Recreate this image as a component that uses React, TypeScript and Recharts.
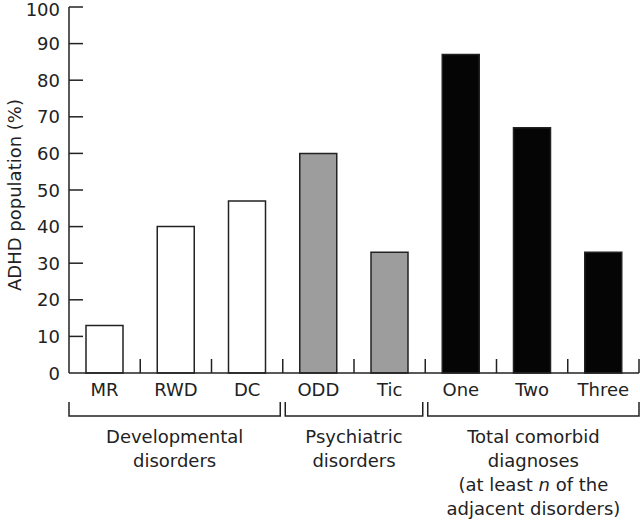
import { Bar, BarChart, Cell, XAxis, YAxis } from "recharts";

const categories = ["MR", "RWD", "DC", "ODD", "Tic", "One", "Two", "Three"];
const values = [13, 40, 47, 60, 33, 87, 67, 33];
const fills = ["#ffffff", "#ffffff", "#ffffff", "#9d9d9d", "#9d9d9d", "#050505", "#050505", "#050505"];
const yTicks = [0, 10, 20, 30, 40, 50, 60, 70, 80, 90, 100];
const groups = [
  { start: 0, count: 3, lines: ["Developmental", "disorders"] },
  { start: 3, count: 2, lines: ["Psychiatric", "disorders"] },
  { start: 5, count: 3, lines: ["Total comorbid", "diagnoses", "(at least n of the", "adjacent disorders)"] },
];

const W = 640;
const H = 524;
const AXIS_W = 69;
const RIGHT = 1;
const BAND = (W - AXIS_W - RIGHT) / categories.length;
const INK = "#222";
const FONT = "'DejaVu Sans', sans-serif";
const FS = 18;

const data = categories.map((name, i) => ({ name, value: values[i] }));

function YTick(props: any) {
  const { x, y, payload } = props;
  return (
    <g>
      <text x={x - 9} y={y} dy={payload.value === 100 ? 8.5 : 6.5} textAnchor="end" fontSize={FS} fill={INK} fontFamily={FONT}>
        {payload.value}
      </text>
      {payload.value !== 0 && <line x1={x} x2={x + 14} y1={y} y2={y} stroke={INK} strokeWidth={1.5} />}
    </g>
  );
}

function GroupLine({ text, x, y }: { text: string; x: number; y: number }) {
  if (text.includes(" n ")) {
    const [a, b] = text.split(" n ");
    return (
      <text x={x} y={y} textAnchor="middle" fontSize={FS} fill={INK} fontFamily={FONT}>
        {a + " "}
        <tspan fontStyle="italic">n</tspan>
        {" " + b}
      </text>
    );
  }
  return (
    <text x={x} y={y} textAnchor="middle" fontSize={FS} fill={INK} fontFamily={FONT}>
      {text}
    </text>
  );
}

function XTick(props: any) {
  const { x, y, payload, index } = props;
  const right = x + BAND / 2;
  const group = groups.find((g) => g.start === index);
  let bracket = null;
  if (group) {
    const left = x - BAND / 2 + (group.start === 0 ? 0 : 2.5);
    const endEdge = x - BAND / 2 + group.count * BAND;
    const end = group.start + group.count === categories.length ? endEdge : endEdge - 2.5;
    const mid = (left + end) / 2;
    bracket = (
      <g>
        <polyline
          points={`${left},${y + 29} ${left},${y + 43} ${end},${y + 43} ${end},${y + 29}`}
          fill="none"
          stroke={INK}
          strokeWidth={1.5}
        />
        {group.lines.map((t, i) => (
          <GroupLine key={t} text={t} x={mid} y={y + 70 + i * 24} />
        ))}
      </g>
    );
  }
  return (
    <g>
      <line x1={right} x2={right} y1={y} y2={y - 14} stroke={INK} strokeWidth={1.5} />
      <text x={x} y={y + 23} textAnchor="middle" fontSize={FS} fill={INK} fontFamily={FONT}>
        {payload.value}
      </text>
      {bracket}
    </g>
  );
}

function YLabel(props: any) {
  const { viewBox } = props;
  const cx = 14;
  const cy = viewBox.y + viewBox.height / 2 + 5;
  return (
    <text
      x={cx}
      y={cy}
      transform={`rotate(-90 ${cx} ${cy})`}
      textAnchor="middle"
      dominantBaseline="central"
      fontSize={FS}
      fill={INK}
      fontFamily={FONT}
    >
      ADHD population (%)
    </text>
  );
}

export default function App() {
  return (
    <div style={{ position: "absolute", left: 0, top: 0, width: W, height: H, background: "#fff" }}>
      <BarChart width={W} height={H} data={data} margin={{ top: 7, right: RIGHT, bottom: 0, left: 0 }} barSize={37}>
        <XAxis
          dataKey="name"
          height={151}
          tickSize={0}
          tickMargin={0}
          tickLine={false}
          interval={0}
          stroke={INK}
          strokeWidth={1.5}
          tick={<XTick />}
        />
        <YAxis
          domain={[0, 100]}
          ticks={yTicks}
          width={AXIS_W}
          tickSize={0}
          tickMargin={0}
          tickLine={false}
          interval={0}
          stroke={INK}
          strokeWidth={1.5}
          tick={<YTick />}
          label={<YLabel />}
        />
        <Bar dataKey="value" stroke={INK} strokeWidth={1.5} isAnimationActive={false}>
          {data.map((d, i) => (
            <Cell key={d.name} fill={fills[i]} />
          ))}
        </Bar>
      </BarChart>
    </div>
  );
}
